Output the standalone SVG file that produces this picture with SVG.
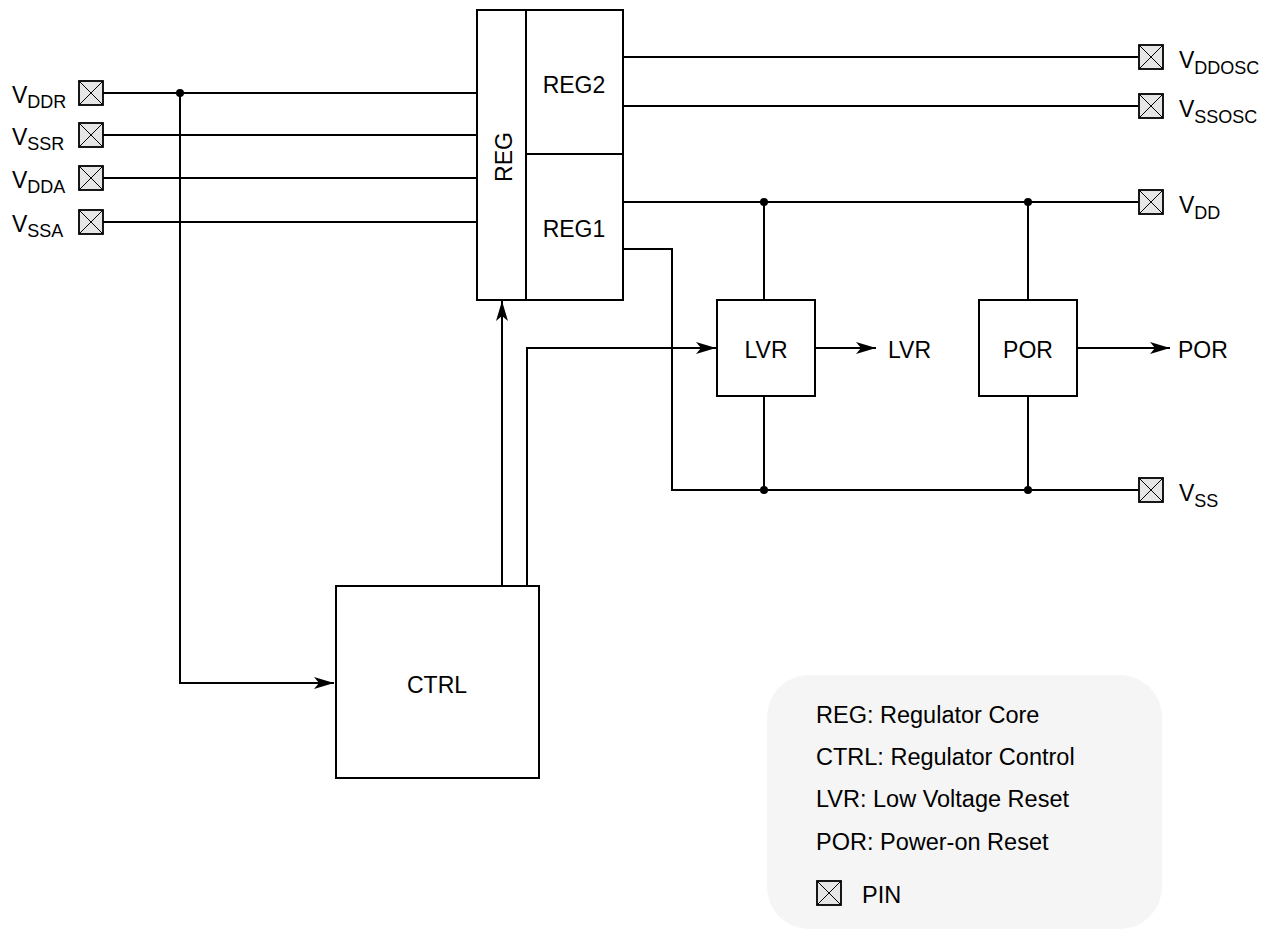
<svg xmlns="http://www.w3.org/2000/svg" width="1279" height="929" viewBox="0 0 1279 929">
<style>
.ln{fill:none;stroke:#000;stroke-width:2}
.box{fill:#fff;stroke:#000;stroke-width:2}
.pin{fill:#e6e6e6;stroke:#000;stroke-width:1.8}
.px{stroke:#000;stroke-width:1}
text{font-family:"Liberation Sans",Arial,Helvetica,sans-serif;fill:#000}
.t{font-size:23px}
.c{text-anchor:middle}
.sub{font-size:18px}
.lg{font-size:23.5px}
</style>
<defs>
<marker id="arr" markerUnits="userSpaceOnUse" markerWidth="20" markerHeight="12" refX="20" refY="6" orient="auto">
<path d="M0,0 L20,6 L0,12 L5,6 z" fill="#000"/>
</marker>
<g id="pinsym">
<rect class="pin" x="-12" y="-12" width="24" height="24"/>
<path class="px" d="M-12,-12 L12,12 M12,-12 L-12,12"/>
</g>
</defs>
<rect width="1279" height="929" fill="#fff"/>

<g id="legend">
<rect x="767" y="675" width="395" height="254" rx="42" ry="42" fill="#f5f5f5"/>
<text class="lg" x="816" y="723">REG: Regulator Core</text>
<text class="lg" x="816" y="765">CTRL: Regulator Control</text>
<text class="lg" x="816" y="807">LVR: Low Voltage Reset</text>
<text class="lg" x="816" y="850">POR: Power-on Reset</text>
<use href="#pinsym" x="829" y="893"/>
<text class="lg" x="862" y="903">PIN</text>
</g>

<g id="connectors">
<path class="ln" d="M103,93 H477"/>
<path class="ln" d="M103,135 H477"/>
<path class="ln" d="M103,178 H477"/>
<path class="ln" d="M103,222 H477"/>
<path class="ln" d="M180,93 V683 H334" marker-end="url(#arr)"/>
<path class="ln" d="M502,585 V301" marker-end="url(#arr)"/>
<path class="ln" d="M527,585 V348 H716" marker-end="url(#arr)"/>
<path class="ln" d="M623,57 H1138"/>
<path class="ln" d="M623,106 H1138"/>
<path class="ln" d="M623,202 H1138"/>
<path class="ln" d="M623,249 H672 V490 H1138"/>
<path class="ln" d="M764,202 V300 M764,396 V490"/>
<path class="ln" d="M1028,202 V300 M1028,396 V490"/>
<path class="ln" d="M815,348 H876" marker-end="url(#arr)"/>
<path class="ln" d="M1077,348 H1170" marker-end="url(#arr)"/>
<circle cx="180" cy="93" r="4"/>
<circle cx="764" cy="202" r="4"/>
<circle cx="1028" cy="202" r="4"/>
<circle cx="764" cy="490" r="4"/>
<circle cx="1028" cy="490" r="4"/>
</g>

<g id="REG">
<rect class="box" x="477" y="10" width="146" height="290"/>
<path class="ln" d="M526,10 V300 M526,154 H623"/>
<text class="t c" transform="translate(511.5,157) rotate(-90)">REG</text>
</g>
<g id="REG2"><text class="t c" x="574" y="93">REG2</text></g>
<g id="REG1"><text class="t c" x="574" y="237">REG1</text></g>

<g id="CTRL">
<rect class="box" x="336" y="586" width="203" height="192"/>
<text class="t c" x="437" y="693">CTRL</text>
</g>

<g id="LVR">
<rect class="box" x="717" y="300" width="98" height="96"/>
<text class="t c" x="766" y="358">LVR</text>
</g>
<text class="t" x="888" y="358">LVR</text>

<g id="POR">
<rect class="box" x="979" y="300" width="98" height="96"/>
<text class="t c" x="1028" y="358">POR</text>
</g>
<text class="t" x="1178" y="358">POR</text>

<g id="pin-VDDR"><use href="#pinsym" x="91" y="93"/><text class="t" x="12" y="103">V<tspan class="sub" dy="5">DDR</tspan></text></g>
<g id="pin-VSSR"><use href="#pinsym" x="91" y="135"/><text class="t" x="12" y="145">V<tspan class="sub" dy="5">SSR</tspan></text></g>
<g id="pin-VDDA"><use href="#pinsym" x="91" y="178"/><text class="t" x="12" y="188">V<tspan class="sub" dy="5">DDA</tspan></text></g>
<g id="pin-VSSA"><use href="#pinsym" x="91" y="222"/><text class="t" x="12" y="232">V<tspan class="sub" dy="5">SSA</tspan></text></g>

<g id="pin-VDDOSC"><use href="#pinsym" x="1151" y="57"/><text class="t" x="1179" y="68">V<tspan class="sub" dy="6">DDOSC</tspan></text></g>
<g id="pin-VSSOSC"><use href="#pinsym" x="1151" y="106"/><text class="t" x="1179" y="117">V<tspan class="sub" dy="6">SSOSC</tspan></text></g>
<g id="pin-VDD"><use href="#pinsym" x="1151" y="202"/><text class="t" x="1179" y="213">V<tspan class="sub" dy="6">DD</tspan></text></g>
<g id="pin-VSS"><use href="#pinsym" x="1151" y="490"/><text class="t" x="1179" y="501">V<tspan class="sub" dy="6">SS</tspan></text></g>
</svg>
